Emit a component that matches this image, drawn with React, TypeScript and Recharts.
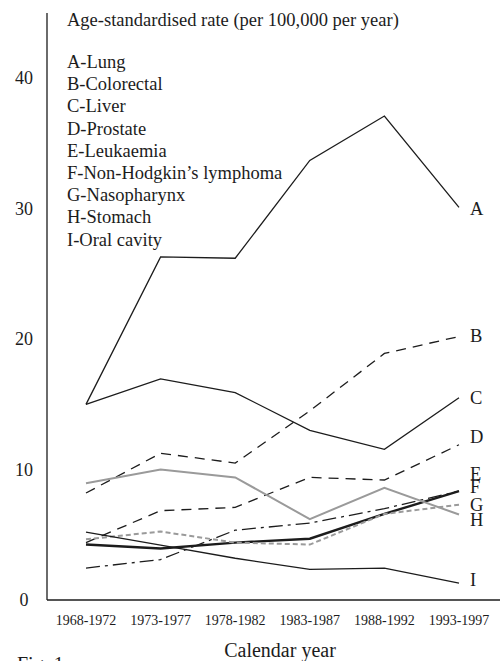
import { LineChart, Line, XAxis, YAxis } from 'recharts'

const periods = ['1968-1972', '1973-1977', '1978-1982', '1983-1987', '1988-1992', '1993-1997']
const lung = [15.0, 26.3, 26.2, 33.7, 37.1, 30.1]
const colorectal = [8.2, 11.25, 10.5, 14.5, 18.9, 20.2]
const liver = [15.0, 16.95, 15.9, 13.0, 11.55, 15.5]
const prostate = [4.4, 6.85, 7.1, 9.4, 9.2, 11.9]
const leukaemia = [2.45, 3.1, 5.35, 5.9, 7.0, 8.35]
const nhl = [4.25, 3.95, 4.4, 4.7, 6.6, 8.35]
const nasopharynx = [4.65, 5.25, 4.4, 4.25, 6.6, 7.3]
const stomach = [8.95, 10.0, 9.4, 6.2, 8.6, 6.55]
const oral = [5.2, 4.2, 3.2, 2.35, 2.45, 1.3]
const yTicks = [0, 10, 20, 30, 40]
const legendLines = [
  'A-Lung', 'B-Colorectal', 'C-Liver', 'D-Prostate', 'E-Leukaemia',
  "F-Non-Hodgkin\u2019s lymphoma", 'G-Nasopharynx', 'H-Stomach', 'I-Oral cavity',
]

const data = periods.map((p, i) => ({
  period: p,
  A: lung[i], B: colorectal[i], C: liver[i], D: prostate[i], E: leukaemia[i],
  F: nhl[i], G: nasopharynx[i], H: stomach[i], I: oral[i],
}))

const FONT = '"Liberation Serif", "Times New Roman", serif'
const INK = '#1c1c1c'
const GREY = '#9a9a9a'

// series styles; dy nudges the end label so the E-H stack stays readable
const SERIES = [
  { key: 'A', stroke: INK, width: 1.3, dash: undefined, dy: 2 },
  { key: 'B', stroke: INK, width: 1.3, dash: '10 7', dy: -1 },
  { key: 'C', stroke: INK, width: 1.3, dash: undefined, dy: 0 },
  { key: 'D', stroke: INK, width: 1.3, dash: '10 7', dy: -7.5 },
  { key: 'E', stroke: INK, width: 1.3, dash: '14 5 3 5', dy: -17 },
  { key: 'F', stroke: INK, width: 2.4, dash: undefined, dy: -4 },
  { key: 'G', stroke: GREY, width: 2, dash: '5 3', dy: 0 },
  { key: 'H', stroke: GREY, width: 2, dash: undefined, dy: 5.5 },
  { key: 'I', stroke: INK, width: 1.3, dash: undefined, dy: -3 },
]

const last = periods.length - 1

function endLabel(name: string, dy: number) {
  return (props: any) => {
    if (props.index !== last) return <g />
    return (
      <text x={props.x + 11} y={props.y + dy} dominantBaseline="central"
        fontFamily={FONT} fontSize={18.5} fill={INK}>{name}</text>
    )
  }
}

const YTick = (props: any) => (
  <text x={props.x - 23} y={props.y} textAnchor="middle" dominantBaseline="central"
    fontFamily={FONT} fontSize={18} fill={INK}>{props.payload.value}</text>
)

const XTick = (props: any) => (
  <text x={props.x} y={props.y + 20} textAnchor="middle" dominantBaseline="central"
    fontFamily={FONT} fontSize={14} fill={INK}>{props.payload.value}</text>
)

export default function App() {
  return (
    <div style={{ position: 'absolute', left: 0, top: 0, width: 500, height: 661, background: '#fff' }}>
      <LineChart width={500} height={661} data={data} margin={{ top: 13, right: 0, left: 0, bottom: 0 }}>
        <YAxis
          width={47} domain={[0, 45]} ticks={yTicks} type="number"
          tickLine={false} tickSize={0} tickMargin={0}
          axisLine={{ stroke: INK, strokeWidth: 1.3 }} tick={<YTick />}
        />
        <XAxis
          dataKey="period" height={61} padding={{ left: 39, right: 41 }}
          tickLine={false} tickSize={0} tickMargin={0} interval={0}
          axisLine={{ stroke: INK, strokeWidth: 1.3 }} tick={<XTick />}
        />
        {SERIES.map(s => (
          <Line
            key={s.key} dataKey={s.key} type="linear" stroke={s.stroke}
            strokeWidth={s.width} strokeDasharray={s.dash} dot={false}
            activeDot={false} isAnimationActive={false}
            label={endLabel(s.key, s.dy)}
          />
        ))}
        <text x={67} y={26} fontFamily={FONT} fontSize={18.5} fill={INK}>
          Age-standardised rate (per 100,000 per year)
        </text>
        {legendLines.map((t, i) => (
          <text key={t} x={67} y={62 + i * 22.2} dominantBaseline="central"
            fontFamily={FONT} fontSize={18.5} fill={INK}>{t}</text>
        ))}
        <text x={280} y={650} textAnchor="middle" dominantBaseline="central"
          fontFamily={FONT} fontSize={20} fill={INK}>Calendar year</text>
        <text x={17} y={671} fontFamily={FONT} fontSize={20} fill={INK}>Fig. 1</text>
      </LineChart>
    </div>
  )
}
